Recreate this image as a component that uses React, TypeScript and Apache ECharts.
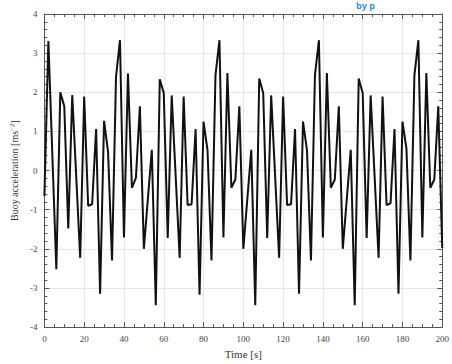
import React, { useEffect, useRef } from "react";
import * as echarts from "echarts";

const timeS = [
  0, 2, 6, 8, 10, 12, 14, 18, 20, 22, 24, 26, 28, 30, 32, 34, 36, 38, 40, 42, 44, 46, 48, 50,
  54, 56, 58, 60, 62, 64, 68, 70, 72, 74, 76, 78, 80, 82, 84, 86, 88, 90, 92, 94, 96, 98, 100,
  104, 106, 108, 110, 112, 114, 118, 120, 122, 124, 126, 128, 130, 132, 134, 136, 138, 140, 142,
  144, 146, 148, 150, 154, 156, 158, 160, 162, 164, 168, 170, 172, 174, 176, 178, 180, 182, 184,
  186, 188, 190, 192, 194, 196, 198, 200,
];
const accel = [
  -0.65, 3.31, -2.52, 2.0, 1.64, -1.48, 1.93, -2.23, 1.89, -0.9, -0.86, 1.06, -3.15, 1.27, 0.48,
  -2.3, 2.39, 3.33, -1.71, 2.48, -0.44, -0.19, 1.64, -2.0,
  0.53, -3.44, 2.33, 1.98, -1.72, 1.92, -2.23, 1.89, -0.88, -0.86, 1.06, -3.17, 1.25, 0.52,
  -2.3, 2.43, 3.33, -1.71, 2.49, -0.44, -0.23, 1.64, -2.0,
  0.53, -3.44, 2.35, 1.98, -1.72, 1.92, -2.23, 1.89, -0.88, -0.86, 1.06, -3.15, 1.25, 0.52,
  -2.3, 2.43, 3.33, -1.71, 2.49,
  -0.44, -0.23, 1.64, -2.0, 0.53, -3.44, 2.35, 1.98, -1.72, 1.92, -2.23, 1.89, -0.88, -0.84,
  1.06, -3.15, 1.25, 0.56, -2.3,
  2.43, 3.33, -1.71, 2.49, -0.44, -0.23, 1.64, -1.98,
];
const xTicks = { min: 0, max: 200, step: 20 };
const yTicks = { min: -4, max: 4, step: 1 };

const FONT = "'Liberation Serif', 'DejaVu Serif', serif";

export default function App() {
  const ref = useRef<HTMLDivElement>(null);
  useEffect(() => {
    if (!ref.current) return;
    const chart = echarts.init(ref.current, undefined, { renderer: "svg" });
    const data = timeS.map((t, i) => [t, accel[i]]);
    const frameColor = "#555";
    const baseX = {
      type: "value" as const,
      min: xTicks.min,
      max: xTicks.max,
      interval: xTicks.step,
      minorTick: { show: true, splitNumber: 4, length: 3, lineStyle: { color: frameColor } },
      axisTick: { show: true, inside: true, length: 5, lineStyle: { color: frameColor } },
      axisLine: { show: true, onZero: false, lineStyle: { color: frameColor, width: 1 } },
    };
    const baseY = {
      type: "value" as const,
      min: yTicks.min,
      max: yTicks.max,
      interval: yTicks.step,
      minorTick: { show: true, splitNumber: 5, length: 3, lineStyle: { color: frameColor } },
      axisTick: { show: true, inside: true, length: 5, lineStyle: { color: frameColor } },
      axisLine: { show: true, onZero: false, lineStyle: { color: frameColor, width: 1 } },
    };
    chart.setOption({
      animation: false,
      backgroundColor: "#fff",
      grid: { left: 38, top: 14, width: 408, height: 321, containLabel: false },
      xAxis: [
        {
          ...baseX,
          position: "bottom",
          name: "Time [s]",
          nameLocation: "middle",
          nameGap: 18,
          nameTextStyle: { fontFamily: FONT, fontSize: 11, color: "#333" },
          axisLabel: { fontFamily: FONT, fontSize: 9, color: "#444", margin: 7 },
          splitLine: { show: true, lineStyle: { color: "#e6e6e6", width: 1 } },
        },
        {
          ...baseX,
          position: "top",
          axisLabel: { show: false },
          splitLine: { show: false },
        },
      ],
      yAxis: [
        {
          ...baseY,
          position: "left",
          name: "{a|Buoy acceleration [ms}{s|−2}{a|]}",
          nameLocation: "middle",
          nameGap: 18,
          nameRotate: 90,
          nameTextStyle: {
            rich: {
              a: { fontFamily: FONT, fontSize: 10, color: "#333" },
              s: { fontFamily: FONT, fontSize: 7, color: "#333", verticalAlign: "top", padding: [0, 0, 5, 0] },
            },
          },
          axisLabel: { fontFamily: FONT, fontSize: 9, color: "#444", margin: 7 },
          splitLine: { show: true, lineStyle: { color: "#e6e6e6", width: 1 } },
        },
        {
          ...baseY,
          position: "right",
          axisLabel: { show: false },
          splitLine: { show: false },
        },
      ],
      graphic: [
        {
          type: "text",
          left: 356,
          top: 1,
          style: {
            text: "by p",
            fontFamily: "'Open Sans', sans-serif",
            fontSize: 9,
            fontWeight: "bold",
            fill: "#2a95e6",
          },
        },
      ],
      series: [
        {
          type: "line",
          xAxisIndex: 0,
          yAxisIndex: 0,
          data,
          showSymbol: false,
          lineStyle: { color: "#111", width: 2 },
        },
      ],
    });
    return () => chart.dispose();
  }, []);
  return (
    <div
      ref={ref}
      style={{ position: "fixed", left: 0, top: 0, width: 452, height: 364 }}
    />
  );
}
